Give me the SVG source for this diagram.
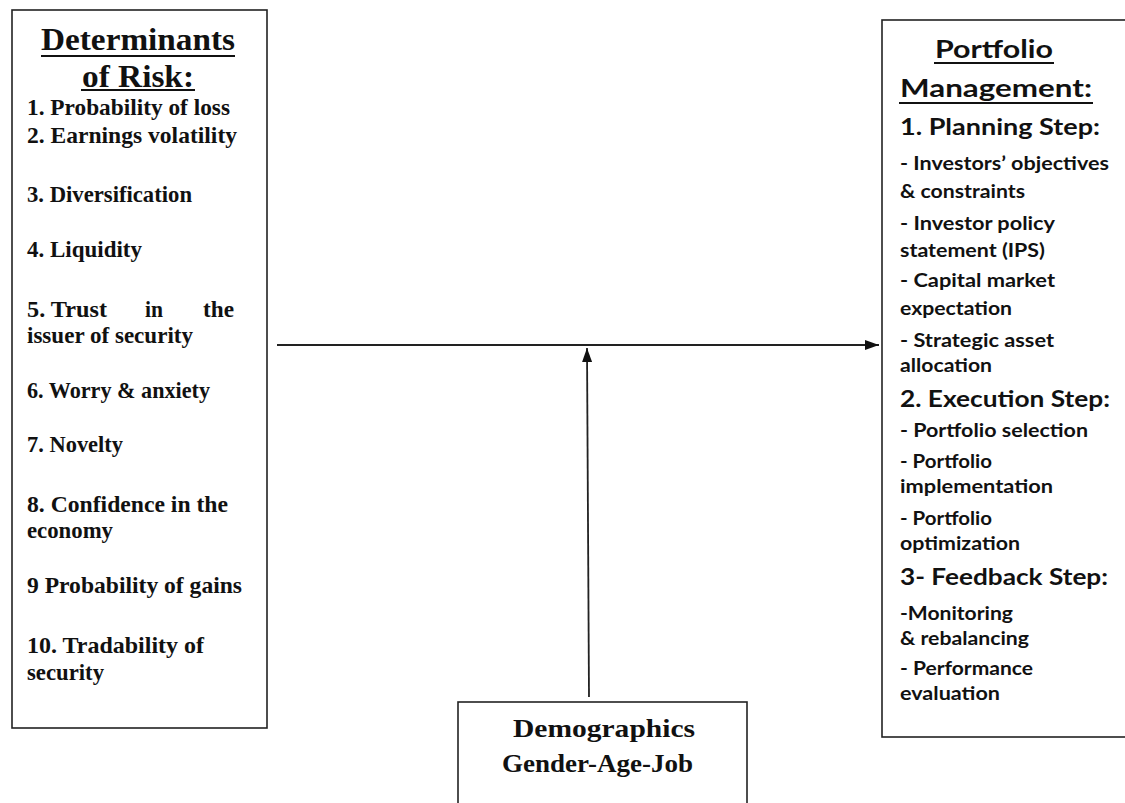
<svg xmlns="http://www.w3.org/2000/svg" width="1125" height="803" viewBox="0 0 1125 803">
<style>
.box{fill:#fff;stroke:#222;stroke-width:1.6}
.ser{font-family:"Liberation Serif","Times New Roman",serif;font-weight:bold;fill:#111}
.t1{font-size:31px}
.it{font-size:23px}
.dm{font-size:25px}
.san{font-family:Lato,"Liberation Sans",sans-serif;font-weight:bold;fill:#111}
.pt{font-size:25px}
.st{font-size:22px}
.pi{font-size:18.5px}
.ul{stroke:#111;stroke-width:2}
.con{stroke:#222;stroke-width:1.8;fill:none}
</style>
<defs>
<marker id="ah" viewBox="0 0 14 10" refX="14" refY="5" markerWidth="14" markerHeight="10" markerUnits="userSpaceOnUse" orient="auto">
<path d="M0,0 L14,5 L0,10 z" fill="#111"/>
</marker>
</defs>
<rect width="1125" height="803" fill="#fff"/>

<g id="determinants">
<rect class="box" x="12" y="10" width="255" height="718"/>
<text class="ser t1" x="41" y="50" textLength="194" lengthAdjust="spacingAndGlyphs">Determinants</text>
<line class="ul" x1="41" y1="56" x2="235" y2="56"/>
<text class="ser t1" x="82" y="87" textLength="112" lengthAdjust="spacingAndGlyphs">of Risk:</text>
<line class="ul" x1="81" y1="90" x2="195" y2="90"/>
<text class="ser it" x="27" y="115" textLength="203" lengthAdjust="spacingAndGlyphs">1. Probability  of loss</text>
<text class="ser it" x="27" y="143" textLength="210" lengthAdjust="spacingAndGlyphs">2.  Earnings volatility</text>
<text class="ser it" x="27" y="202" textLength="165" lengthAdjust="spacingAndGlyphs">3. Diversification</text>
<text class="ser it" x="27" y="257" textLength="115" lengthAdjust="spacingAndGlyphs">4. Liquidity</text>
<text class="ser it" x="27" y="317" textLength="80" lengthAdjust="spacingAndGlyphs">5. Trust</text>
<text class="ser it" x="145" y="317" textLength="18" lengthAdjust="spacingAndGlyphs">in</text>
<text class="ser it" x="203" y="317" textLength="31" lengthAdjust="spacingAndGlyphs">the</text>
<text class="ser it" x="27" y="343" textLength="166" lengthAdjust="spacingAndGlyphs">issuer of security</text>
<text class="ser it" x="27" y="398" textLength="183" lengthAdjust="spacingAndGlyphs">6. Worry &amp; anxiety</text>
<text class="ser it" x="27" y="452" textLength="96" lengthAdjust="spacingAndGlyphs">7. Novelty</text>
<text class="ser it" x="27" y="512" textLength="201" lengthAdjust="spacingAndGlyphs">8. Confidence in  the</text>
<text class="ser it" x="27" y="538" textLength="86" lengthAdjust="spacingAndGlyphs">economy</text>
<text class="ser it" x="27" y="593" textLength="215" lengthAdjust="spacingAndGlyphs">9 Probability  of gains</text>
<text class="ser it" x="27" y="653" textLength="177" lengthAdjust="spacingAndGlyphs">10. Tradability  of</text>
<text class="ser it" x="27" y="680" textLength="77" lengthAdjust="spacingAndGlyphs">security</text>
</g>

<g id="portfolio">
<rect class="box" x="882" y="20" width="260" height="717"/>
<text class="san pt" x="935" y="58" textLength="118" lengthAdjust="spacingAndGlyphs">Portfolio</text>
<line class="ul" x1="934" y1="63" x2="1054" y2="63"/>
<text class="san pt" x="900" y="97" textLength="192" lengthAdjust="spacingAndGlyphs">Management:</text>
<line class="ul" x1="899" y1="103" x2="1093" y2="103"/>
<text class="san st" x="900" y="135" textLength="200" lengthAdjust="spacingAndGlyphs">1. Planning Step:</text>
<text class="san pi" x="900" y="170" textLength="209" lengthAdjust="spacingAndGlyphs">-  Investors’ objectives</text>
<text class="san pi" x="900" y="198" textLength="125" lengthAdjust="spacingAndGlyphs">&amp; constraints</text>
<text class="san pi" x="900" y="230" textLength="155" lengthAdjust="spacingAndGlyphs">- Investor  policy</text>
<text class="san pi" x="900" y="257" textLength="145" lengthAdjust="spacingAndGlyphs">statement (IPS)</text>
<text class="san pi" x="900" y="287" textLength="155" lengthAdjust="spacingAndGlyphs">- Capital market</text>
<text class="san pi" x="900" y="315" textLength="112" lengthAdjust="spacingAndGlyphs">expectation</text>
<text class="san pi" x="900" y="347" textLength="154" lengthAdjust="spacingAndGlyphs">- Strategic asset</text>
<text class="san pi" x="900" y="372" textLength="92" lengthAdjust="spacingAndGlyphs">allocation</text>
<text class="san st" x="900" y="407" textLength="210" lengthAdjust="spacingAndGlyphs">2. Execution Step:</text>
<text class="san pi" x="900" y="437" textLength="188" lengthAdjust="spacingAndGlyphs">- Portfolio  selection</text>
<text class="san pi" x="900" y="468" textLength="92" lengthAdjust="spacingAndGlyphs">- Portfolio</text>
<text class="san pi" x="900" y="493" textLength="153" lengthAdjust="spacingAndGlyphs">implementation</text>
<text class="san pi" x="900" y="525" textLength="92" lengthAdjust="spacingAndGlyphs">- Portfolio</text>
<text class="san pi" x="900" y="550" textLength="120" lengthAdjust="spacingAndGlyphs">optimization</text>
<text class="san st" x="900" y="585" textLength="208" lengthAdjust="spacingAndGlyphs">3- Feedback Step:</text>
<text class="san pi" x="900" y="620" textLength="113" lengthAdjust="spacingAndGlyphs">-Monitoring</text>
<text class="san pi" x="900" y="645" textLength="129" lengthAdjust="spacingAndGlyphs">&amp; rebalancing</text>
<text class="san pi" x="900" y="675" textLength="133" lengthAdjust="spacingAndGlyphs">- Performance</text>
<text class="san pi" x="900" y="700" textLength="100" lengthAdjust="spacingAndGlyphs">evaluation</text>
</g>

<g id="demographics">
<rect class="box" x="458" y="702" width="289" height="120"/>
<text class="ser dm" x="513" y="737" textLength="182" lengthAdjust="spacingAndGlyphs">Demographics</text>
<text class="ser dm" x="502" y="772" textLength="191" lengthAdjust="spacingAndGlyphs">Gender-Age-Job</text>
</g>

<g id="connectors">
<line class="con" x1="277" y1="345" x2="879" y2="345" marker-end="url(#ah)"/>
<line class="con" x1="589" y1="697" x2="587" y2="348" marker-end="url(#ah)"/>
</g>
</svg>
